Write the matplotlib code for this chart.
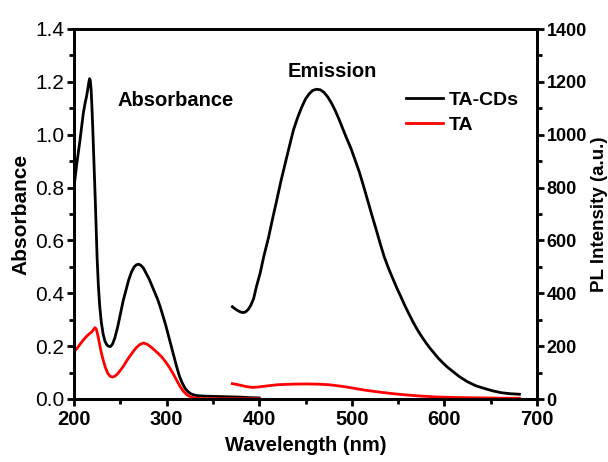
import matplotlib
matplotlib.use("Agg")
import matplotlib.pyplot as plt
from matplotlib.ticker import MultipleLocator

plt.rcParams['font.family'] = ['Liberation Sans', 'DejaVu Sans']

# UV-vis absorbance (left axis)
abs_wl = [200, 203, 206.5, 210, 212, 213.5, 215, 216, 216.8, 217.6, 218.5, 219.3,
          220.2, 221, 222, 223, 224, 225, 226.3, 227.8, 229.5, 231.5, 233.5, 235.5,
          237.5, 239.5, 241.5, 244, 247, 250, 253, 256, 259, 262, 265, 267.5, 270,
          272.5, 275, 278, 281, 284, 287, 290, 293, 296, 299, 302, 305, 308, 311, 314,
          317, 320, 323, 326, 329, 332, 336, 340, 350, 360, 370, 380, 390, 400]
abs_cds = [0.80, 0.89, 0.98, 1.08, 1.12, 1.144, 1.175, 1.198, 1.212, 1.205, 1.17, 1.11,
           1.03, 0.95, 0.85, 0.75, 0.64, 0.53, 0.43, 0.35, 0.29, 0.245, 0.218, 0.205,
           0.199, 0.199, 0.207, 0.23, 0.27, 0.32, 0.37, 0.41, 0.45, 0.48, 0.5, 0.508, 0.51,
           0.505, 0.495, 0.475, 0.455, 0.43, 0.405, 0.38, 0.35, 0.315, 0.28, 0.24, 0.2,
           0.16, 0.12, 0.085, 0.06, 0.04, 0.028, 0.02, 0.016, 0.013, 0.012, 0.011, 0.01,
           0.009, 0.008, 0.007, 0.005, 0.004]

abs_wl_ta = [200, 203, 206, 210, 213, 216, 219, 221, 222.7, 224, 225.5, 227.5, 229.5,
             231.7, 234, 236.5, 239, 241.5, 244, 247, 250, 253.5, 257, 260.5, 264, 267.5,
             271, 275, 279, 283, 287, 291, 295, 299, 303, 307, 311, 314.5, 318, 322, 326,
             330, 335, 345, 370, 400]
abs_ta = [0.18, 0.19, 0.205, 0.223, 0.235, 0.245, 0.253, 0.262, 0.27, 0.265, 0.245, 0.21,
          0.175, 0.145, 0.118, 0.097, 0.086, 0.083, 0.086, 0.095, 0.108, 0.125, 0.145,
          0.163, 0.18, 0.195, 0.206, 0.212, 0.207, 0.197, 0.185, 0.172, 0.158, 0.14, 0.12,
          0.096, 0.07, 0.048, 0.03, 0.016, 0.008, 0.004, 0.002, 0.001, 0.001, 0.001]

# photoluminescence emission (right axis)
em_wl = [371, 374, 377, 380, 382.5, 385, 388, 391, 394, 397, 401, 405, 410, 414.5,
         419, 423.5, 428, 432.5, 437, 441.5, 446, 450, 454, 458, 462, 466, 470, 474,
         478, 482, 486, 490, 494, 499, 503.5, 508, 512.5, 517, 521.5, 526, 530.5, 535,
         539.5, 544, 548.5, 553, 557.5, 562, 566.5, 571, 575.5, 580, 584.5, 589, 593.5,
         598, 602.5, 607, 616, 625, 634, 643, 652, 661, 671, 681]
em_cds = [349, 341, 334, 329, 327, 329, 338, 355, 380, 425, 476, 540, 610, 683, 753,
          825, 890, 955, 1018, 1065, 1105, 1135, 1155, 1168, 1172, 1170, 1160, 1143,
          1120, 1092, 1060, 1025, 990, 949, 905, 860, 808, 753, 698, 645, 590, 538, 496,
          458, 421, 387, 352, 320, 289, 261, 236, 213, 192, 173, 154, 138, 123, 110, 85,
          65, 50, 40, 31, 24, 20, 18]

em_wl_ta = [371, 376, 381, 386, 392, 398, 405, 412, 420, 430, 440, 452, 465, 475, 485,
            495, 505, 515, 530, 545, 560, 575, 590, 607, 625, 645, 665, 681]
em_ta = [58, 55, 51, 47, 44, 45, 48, 51, 54, 55.5, 56.5, 57, 56, 54, 50, 45, 39, 33,
         26, 20, 15, 11, 8, 6, 5, 4, 3, 3]

fig = plt.figure(figsize=(6.08, 4.62), dpi=100)
ax = fig.add_axes([74/608, 1-399/462, (537-74)/608, (399-29)/462])
ax2 = ax.twinx()

ax.plot(abs_wl, abs_cds, color='black', lw=2, label='TA-CDs')
ax.plot(abs_wl_ta, abs_ta, color='red', lw=2, label='TA')
ax2.plot(em_wl, em_cds, color='black', lw=2)
ax2.plot(em_wl_ta, em_ta, color='red', lw=2)

ax.set_xlim(200, 700)
ax.set_ylim(0, 1.4)
ax2.set_ylim(0, 1400)

ax.xaxis.set_major_locator(MultipleLocator(100))
ax.xaxis.set_minor_locator(MultipleLocator(50))
ax.yaxis.set_major_locator(MultipleLocator(0.2))
ax.yaxis.set_minor_locator(MultipleLocator(0.1))
ax2.yaxis.set_major_locator(MultipleLocator(200))
ax2.yaxis.set_minor_locator(MultipleLocator(100))
ax.yaxis.set_major_formatter(plt.FormatStrFormatter('%.1f'))

for a in (ax, ax2):
    for s in a.spines.values():
        s.set_linewidth(2)
    a.tick_params(which='major', direction='out', length=5, width=2, pad=2)
    a.tick_params(which='minor', direction='out', length=3.5, width=2)
ax.tick_params(top=False, which='both')
ax.tick_params(axis='y', labelsize=15)
ax.tick_params(axis='x', labelsize=14.5, pad=3)
for t in ax.get_xticklabels():
    t.set_fontweight('bold')
ax2.tick_params(axis='y', labelsize=13)
for t in ax2.get_yticklabels():
    t.set_fontweight('bold')

ax.set_xlabel('Wavelength (nm)', fontsize=14.5, fontweight='bold', labelpad=5)
ax.set_ylabel('Absorbance', fontsize=15, fontweight='bold', labelpad=3)
ax2.set_ylabel('PL Intensity (a.u.)', fontsize=13.5, fontweight='bold', labelpad=3)

ax.text(247, 1.13, 'Absorbance', fontsize=14.5, fontweight='bold', va='center')
ax.text(431, 1.24, 'Emission', fontsize=14.5, fontweight='bold', va='center')

ax.legend(loc='upper left', bbox_to_anchor=(0.68, 0.88), frameon=False,
          handlelength=1.9, handletextpad=0.3, labelspacing=0.4,
          prop={'weight': 'bold', 'size': 14})

fig.savefig('out.png', dpi=100)
